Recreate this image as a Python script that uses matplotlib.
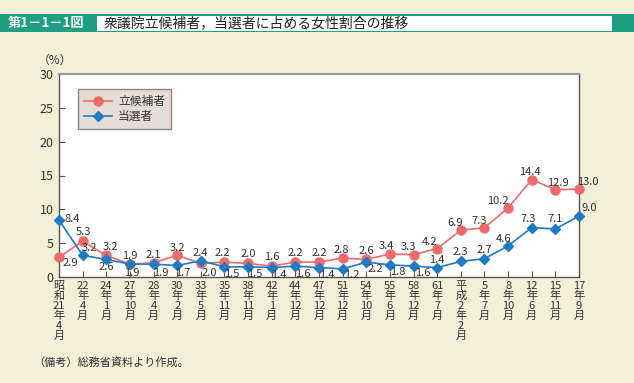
import matplotlib
matplotlib.use("Agg")
import matplotlib.pyplot as plt
from matplotlib.patches import Rectangle

plt.rcParams["font.family"] = ["Noto Sans CJK JP", "DejaVu Sans"]

# election dates (vertical labels, one char per line)
dates = [
    "昭\n和\n21\n年\n4\n月", "22\n年\n4\n月", "24\n年\n1\n月", "27\n年\n10\n月",
    "28\n年\n4\n月", "30\n年\n2\n月", "33\n年\n5\n月", "35\n年\n11\n月",
    "38\n年\n11\n月", "42\n年\n1\n月", "44\n年\n12\n月", "47\n年\n12\n月",
    "51\n年\n12\n月", "54\n年\n10\n月", "55\n年\n6\n月", "58\n年\n12\n月",
    "61\n年\n7\n月", "平\n成\n2\n年\n2\n月", "5\n年\n7\n月", "8\n年\n10\n月",
    "12\n年\n6\n月", "15\n年\n11\n月", "17\n年\n9\n月",
]
candidates = [2.9, 5.3, 3.2, 1.9, 2.1, 3.2, 2.0, 2.2, 2.0, 1.6, 2.2, 2.2,
              2.8, 2.6, 3.4, 3.3, 4.2, 6.9, 7.3, 10.2, 14.4, 12.9, 13.0]
elected = [8.4, 3.2, 2.6, 1.9, 1.9, 1.7, 2.4, 1.5, 1.5, 1.4, 1.6, 1.4,
           1.2, 2.2, 1.8, 1.6, 1.4, 2.3, 2.7, 4.6, 7.3, 7.1, 9.0]

# label offsets in pixels (dx, dy), hand-placed to follow the original
red_off = [(11, -6), (1, 9), (4, 8), (0, 8), (0, 8), (0, 7), (8, -10), (-2, 9),
           (0, 9), (0, 9), (0, 9), (0, 9), (-1, 8), (0, 8), (-4, 8), (-5, 8),
           (-8, 7), (-6, 7), (-5, 7), (-10, 7), (-2, 8), (3, 7), (9, 7)]
blue_off = [(13, 1), (7, 7), (0, -8), (2, -9), (7, -9), (6, -8), (0, 8), (7, -7),
            (7, -7), (7, -7), (7, -8), (8, -7), (9, -6), (9, -7), (8, -7), (9, -7),
            (0, 8), (-1, 9), (0, 9), (-4, 7), (-4, 9), (0, 10), (10, 8)]

RED = "#ef6b6b"
BLUE = "#1f7cc4"
BG = "#f3efd8"
TXT = "#333333"

fig = plt.figure(figsize=(6.34, 3.83), dpi=100, facecolor=BG)

# header band
fig.patches.append(Rectangle((0, 1 - 32 / 383), 1, 18 / 383, transform=fig.transFigure,
                             facecolor="#1e9e82", edgecolor="none", zorder=0))
fig.patches.append(Rectangle((97 / 634, 1 - 30.5 / 383), 515 / 634, 15 / 383,
                             transform=fig.transFigure, facecolor="white",
                             edgecolor="none", zorder=1))
fig.text(8 / 634, 1 - 23 / 383, "第1－1－1図", color="white", fontsize=9.5,
         fontweight="bold", va="center", ha="left")
fig.text(104 / 634, 1 - 23 / 383, "衆議院立候補者，当選者に占める女性割合の推移",
         color="#222222", fontsize=10, va="center", ha="left")

ax = fig.add_axes([59 / 634, 1 - 277 / 383, 520 / 634, 203 / 383])
ax.set_facecolor("white")
x = list(range(len(dates)))

ax.plot(x, candidates, color=RED, lw=1.2, marker="o", ms=6.5, mec=RED, mfc=RED,
        label="立候補者", clip_on=False, zorder=3)
ax.plot(x, elected, color=BLUE, lw=1.2, marker="D", ms=5.5, mec=BLUE, mfc=BLUE,
        label="当選者", clip_on=False, zorder=4)

for xi, v, (dx, dy) in zip(x, candidates, red_off):
    ax.annotate(f"{v:.1f}", (xi, v), xytext=(dx, dy), textcoords="offset pixels",
                ha="center", va="center", fontsize=8, color=TXT, zorder=5,
                annotation_clip=False)
for xi, v, (dx, dy) in zip(x, elected, blue_off):
    ax.annotate(f"{v:.1f}", (xi, v), xytext=(dx, dy), textcoords="offset pixels",
                ha="center", va="center", fontsize=8, color=TXT, zorder=5,
                annotation_clip=False)

ax.set_xlim(0, len(dates) - 1)
ax.set_ylim(0, 30)
ax.set_yticks([0, 5, 10, 15, 20, 25, 30])
ax.set_xticks(x)
ax.set_xticklabels(dates, fontsize=8, color=TXT, linespacing=0.98, va="top")
ax.tick_params(axis="y", direction="in", length=4, labelsize=9, labelcolor=TXT,
               color="#555555", pad=4)
ax.tick_params(axis="x", direction="in", length=4, color="#555555", pad=3)
for side in ["left", "bottom", "right"]:
    ax.spines[side].set_color("#555555")
    ax.spines[side].set_linewidth(1.0)
ax.spines["top"].set_color("#999999")
ax.spines["top"].set_linewidth(1.5)

leg = ax.legend(loc="upper left", bbox_to_anchor=(0.0365, 0.926), borderaxespad=0,
                fancybox=False, facecolor="#e6dbd6", edgecolor="#888888",
                framealpha=1, fontsize=8.5, handlelength=2.4, borderpad=0.5,
                labelspacing=0.2, handletextpad=0.5)
for t in leg.get_texts():
    t.set_color(TXT)

fig.text(38 / 634, 1 - 60 / 383, "（%）", fontsize=8.5, color=TXT, va="center",
         ha="left")
fig.text(33 / 634, 1 - 362 / 383, "（備考）総務省資料より作成。", fontsize=8,
         color=TXT, va="center", ha="left")

fig.savefig("out.png", dpi=100, facecolor=BG)
